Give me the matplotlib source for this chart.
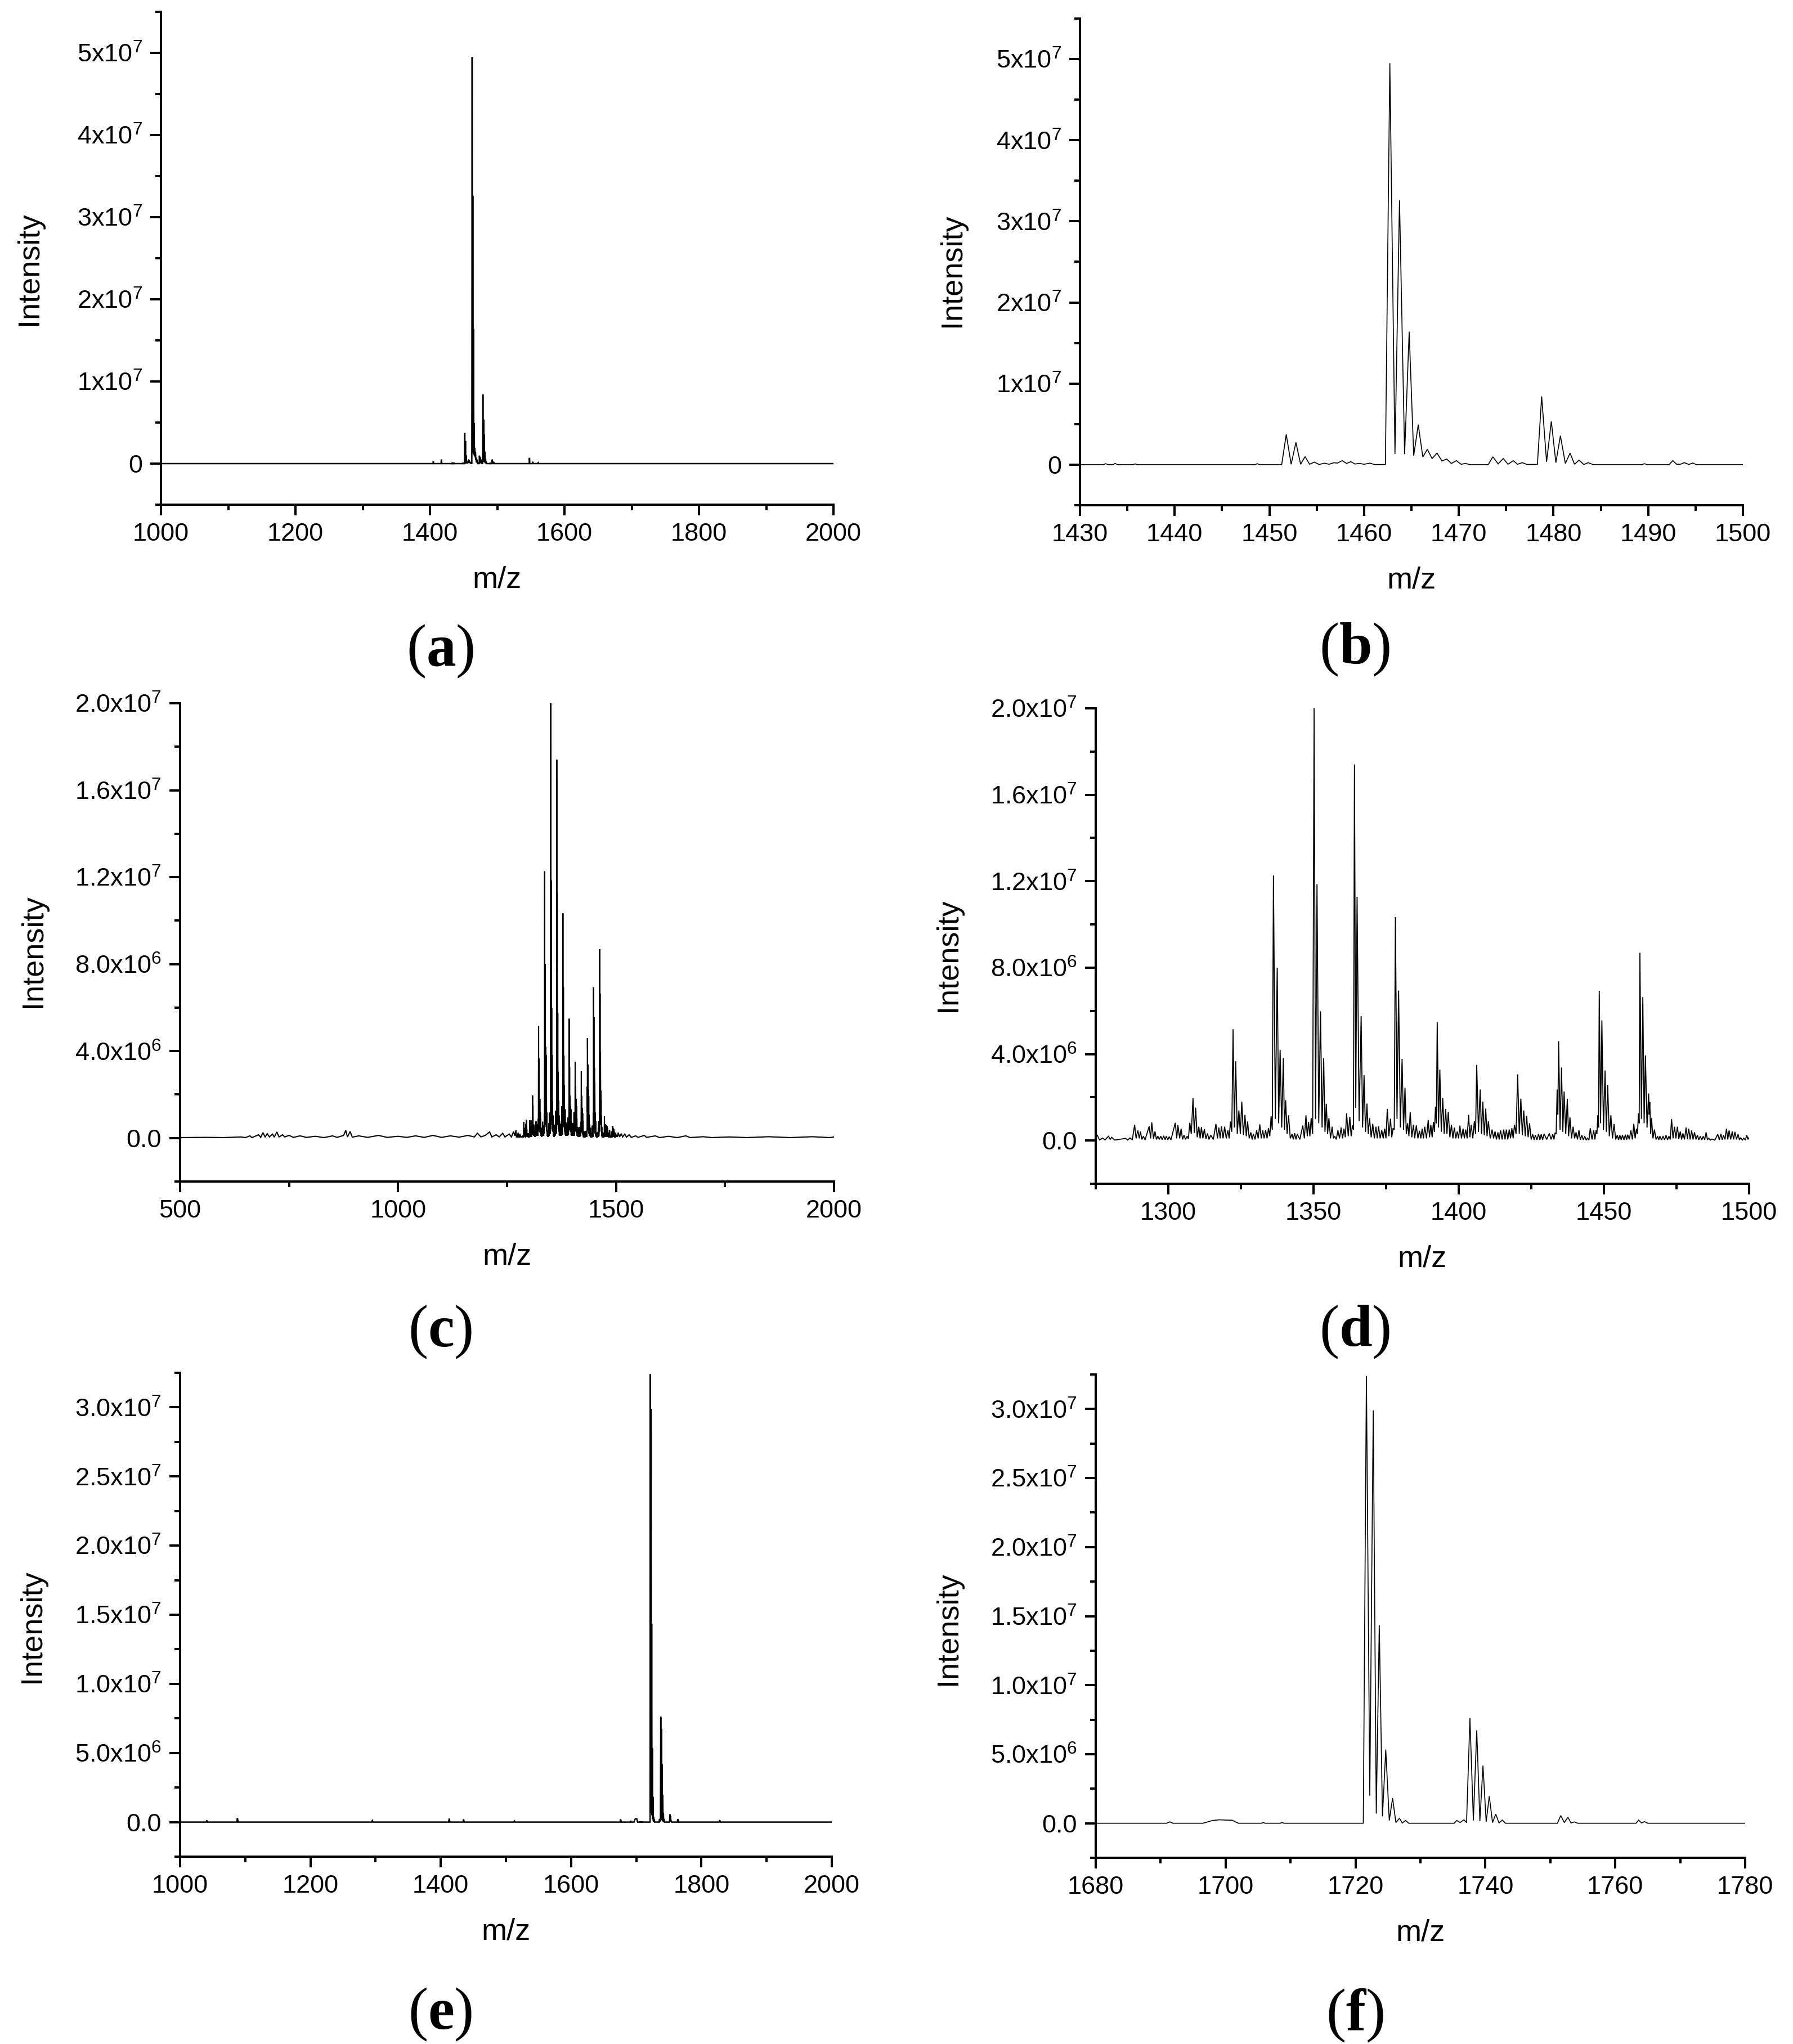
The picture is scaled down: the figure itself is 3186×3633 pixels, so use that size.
import numpy as np
import matplotlib
matplotlib.use("Agg")
import matplotlib.pyplot as plt
from matplotlib.ticker import MultipleLocator

plt.rcParams["font.family"] = ["Liberation Sans", "DejaVu Sans"]
plt.rcParams["mathtext.fontset"] = "custom"
plt.rcParams["mathtext.rm"] = "Liberation Serif"
plt.rcParams["mathtext.bf"] = "Liberation Serif:bold"

# ---------------- data (intensity in units of 1e6) ----------------
# spectrum 1 (panels a, b)
mz1 = [
    1000, 1150, 1404.5, 1405, 1405.5, 1416.5, 1417, 1417.5,
    1432.5, 1432.7, 1433.0, 1433.5, 1433.7, 1434.0, 1435.6, 1435.8,
    1436.1, 1448.5, 1448.7, 1449.0, 1451.3, 1451.78, 1452.3, 1452.8,
    1453.3, 1453.77, 1454.25, 1454.75, 1455.25, 1455.8, 1456.3, 1456.8,
    1457.2, 1457.7, 1458.15, 1458.6, 1459.05, 1459.5, 1460.0, 1460.6,
    1461.1, 1462.25, 1462.72, 1463.26, 1463.74, 1464.28, 1464.76, 1465.24,
    1465.72, 1466.2, 1466.68, 1467.18, 1467.70, 1468.22, 1468.72, 1469.22,
    1469.74, 1470.25, 1470.7, 1471.2, 1473.1, 1473.6, 1474.15, 1474.7,
    1475.2, 1475.75, 1476.2, 1476.7, 1477.2, 1478.3, 1478.75, 1479.27,
    1479.77, 1480.25, 1480.73, 1481.25, 1481.75, 1482.22, 1482.7, 1483.2,
    1483.67, 1484.2, 1489.3, 1489.6, 1489.9, 1492.2, 1492.6, 1493.0,
    1493.4, 1493.8, 1494.3, 1494.7, 1495.1, 1547.5, 1548, 1548.5,
    1552, 1553, 1554, 1560, 1561, 1562, 1570, 2000]
int1 = [
    0, 0, 0, 0.25, 0, 0, 0.5, 0,
    0, 0.12, 0, 0, 0.15, 0, 0, 0.1,
    0, 0, 0.12, 0, 0, 3.73, 0.05, 2.75,
    0.05, 1.0, 0.05, 0.32, 0.02, 0.19, 0.05, 0.24,
    0.2, 0.5, 0.15, 0.37, 0.08, 0.16, 0.05, 0.19,
    0.02, 0.02, 49.5, 1.3, 32.6, 1.3, 16.4, 1.1,
    4.94, 0.95, 1.9, 0.75, 1.43, 0.45, 0.7, 0.15,
    0.5, 0.05, 0.15, 0, 0, 0.97, 0.1, 0.76,
    0.05, 0.5, 0.05, 0.25, 0.03, 0.03, 8.41, 0.35,
    5.35, 0.25, 3.57, 0.15, 1.43, 0.05, 0.56, 0.02,
    0.25, 0, 0, 0.12, 0, 0, 0.5, 0.05,
    0.05, 0.25, 0.03, 0.2, 0, 0, 0.7, 0,
    0, 0.15, 0, 0, 0.12, 0, 0, 0]

# spectrum 2 (panels c, d)
mz2 = [
    500, 560, 600, 640, 650, 660, 665, 680,
    685, 690, 695, 700, 705, 712, 716, 722,
    727, 735, 740, 750, 760, 775, 790, 810,
    830, 850, 860, 875, 880, 884, 890, 895,
    910, 930, 955, 975, 1000, 1020, 1040, 1060,
    1080, 1100, 1120, 1140, 1160, 1175, 1182, 1190,
    1200, 1210, 1215, 1225, 1232, 1240, 1245, 1255,
    1260, 1265, 1268, 1270.5, 1271.5, 1273.5, 1275.5, 1276.3,
    1277.4, 1278.2, 1279.4, 1280.0, 1280.5, 1281.5, 1285.3, 1286,
    1286.8, 1287.6, 1288.4, 1288.9, 1289.5, 1290.0, 1290.4, 1290.9,
    1291.4, 1292.0, 1293.4, 1293.9, 1294.3, 1294.9, 1295.4, 1295.9,
    1296.4, 1296.9, 1297.4, 1297.9, 1298.4, 1298.9, 1299.3, 1299.8,
    1300.3, 1300.9, 1302.4, 1302.9, 1303.3, 1303.9, 1304.4, 1304.9,
    1305.4, 1305.9, 1306.5, 1306.9, 1307.4, 1307.9, 1308.5, 1308.95,
    1309.4, 1309.95, 1310.5, 1310.95, 1311.4, 1311.9, 1312.4, 1312.95,
    1313.5, 1314.0, 1314.6, 1315.5, 1316.4, 1316.9, 1317.4, 1317.85,
    1318.3, 1318.85, 1319.4, 1319.95, 1320.5, 1320.95, 1321.4, 1321.85,
    1322.3, 1322.75, 1323.2, 1323.75, 1324.3, 1324.8, 1325.3, 1325.85,
    1326.4, 1326.85, 1327.3, 1327.85, 1328.4, 1328.85, 1329.3, 1329.85,
    1330.4, 1330.95, 1331.5, 1332.0, 1332.5, 1333.0, 1333.5, 1334.0,
    1334.5, 1334.95, 1335.4, 1335.8, 1336.2, 1336.85, 1337.5, 1338.0,
    1338.5, 1339.05, 1339.6, 1340.0, 1340.4, 1340.9, 1341.4, 1342.0,
    1342.6, 1343.05, 1343.5, 1343.95, 1344.4, 1345.3, 1346.3, 1346.85,
    1347.4, 1347.85, 1348.3, 1348.75, 1349.2, 1349.7, 1350.2, 1350.7,
    1351.2, 1351.8, 1352.4, 1352.95, 1353.5, 1353.95, 1354.4, 1354.85,
    1355.3, 1355.85, 1356.4, 1356.85, 1357.3, 1357.85, 1358.4, 1358.95,
    1359.5, 1360.0, 1360.5, 1360.95, 1361.4, 1361.95, 1362.5, 1362.95,
    1363.4, 1363.75, 1364.1, 1364.55, 1365.0, 1365.7, 1366.4, 1366.9,
    1367.4, 1367.9, 1368.4, 1368.85, 1369.3, 1369.85, 1370.4, 1370.95,
    1371.5, 1371.95, 1372.4, 1372.95, 1373.5, 1374.0, 1374.5, 1374.95,
    1375.4, 1375.95, 1376.5, 1376.95, 1377.4, 1377.8, 1378.2, 1378.75,
    1379.3, 1379.9, 1380.5, 1381.0, 1381.5, 1381.95, 1382.4, 1382.85,
    1383.3, 1383.85, 1384.4, 1384.85, 1385.4, 1385.95, 1386.5, 1386.95,
    1387.4, 1387.85, 1388.3, 1388.9, 1389.5, 1389.95, 1390.4, 1390.85,
    1391.3, 1391.65, 1392.0, 1392.3, 1392.6, 1393.05, 1393.5, 1394.0,
    1394.5, 1395.0, 1395.5, 1395.95, 1396.4, 1396.95, 1397.5, 1398.0,
    1398.5, 1399.0, 1399.5, 1399.95, 1400.4, 1400.95, 1401.5, 1401.95,
    1402.4, 1402.9, 1403.4, 1403.85, 1404.3, 1404.85, 1405.4, 1405.8,
    1406.2, 1406.8, 1407.4, 1407.85, 1408.3, 1408.8, 1409.3, 1409.75,
    1410.2, 1410.85, 1411.5, 1412.0, 1412.5, 1413.0, 1413.5, 1413.95,
    1414.4, 1414.95, 1415.5, 1415.95, 1416.4, 1416.9, 1417.4, 1417.85,
    1418.3, 1418.75, 1419.2, 1419.75, 1420.3, 1420.85, 1421.4, 1421.9,
    1422.4, 1422.9, 1423.4, 1423.9, 1424.4, 1424.95, 1425.5, 1425.95,
    1426.4, 1426.95, 1427.5, 1427.95, 1428.4, 1428.9, 1429.4, 1430.3,
    1431.2, 1431.8, 1432.4, 1432.8, 1433.2, 1433.55, 1433.9, 1434.15,
    1434.4, 1434.9, 1435.4, 1435.85, 1436.3, 1436.85, 1437.4, 1437.85,
    1438.3, 1438.85, 1439.4, 1439.9, 1440.4, 1440.9, 1441.4, 1441.9,
    1442.4, 1442.9, 1443.4, 1443.9, 1444.4, 1444.85, 1445.3, 1445.9,
    1446.5, 1446.9, 1447.3, 1447.6, 1447.9, 1448.15, 1448.4, 1448.85,
    1449.3, 1449.85, 1450.4, 1450.85, 1451.3, 1451.85, 1452.4, 1452.95,
    1453.5, 1454.05, 1454.6, 1455.05, 1455.5, 1455.95, 1456.4, 1456.9,
    1457.4, 1457.8, 1458.2, 1458.75, 1459.3, 1459.8, 1460.3, 1460.75,
    1461.2, 1461.55, 1461.9, 1462.15, 1462.4, 1462.9, 1463.4, 1463.85,
    1464.3, 1464.85, 1465.4, 1465.6, 1465.8, 1466.1, 1466.4, 1466.9,
    1467.4, 1467.95, 1468.5, 1468.9, 1469.3, 1469.85, 1470.4, 1470.9,
    1471.4, 1471.9, 1472.4, 1472.85, 1473.3, 1473.8, 1474.3, 1474.8,
    1475.3, 1475.8, 1476.3, 1476.75, 1477.2, 1477.75, 1478.3, 1478.75,
    1479.2, 1479.7, 1480.2, 1480.7, 1481.2, 1481.7, 1482.2, 1482.7,
    1483.2, 1483.7, 1484.2, 1484.7, 1485.2, 1485.65, 1486.1, 1486.65,
    1487.2, 1488.2, 1489.2, 1489.75, 1490.3, 1490.75, 1491.2, 1491.7,
    1492.2, 1492.65, 1493.1, 1493.65, 1494.2, 1494.65, 1495.1, 1495.65,
    1496.2, 1496.65, 1497.1, 1497.65, 1498.2, 1498.7, 1499.2, 1499.6,
    1500.0, 1503, 1505, 1508, 1512, 1515, 1520, 1524,
    1530, 1535, 1545, 1550, 1565, 1570, 1590, 1600,
    1620, 1640, 1660, 1670, 1700, 1720, 1760, 1800,
    1850, 1900, 1950, 1990, 2000]
int2 = [
    0.02, 0.03, 0.02, 0.05, 0.02, 0.1, 0.02, 0.15,
    0.03, 0.25, 0.05, 0.2, 0.05, 0.18, 0.04, 0.28,
    0.05, 0.15, 0.05, 0.12, 0.03, 0.1, 0.03, 0.08,
    0.02, 0.1, 0.03, 0.12, 0.35, 0.05, 0.3, 0.04,
    0.1, 0.03, 0.12, 0.03, 0.08, 0.03, 0.1, 0.03,
    0.12, 0.03, 0.1, 0.04, 0.12, 0.05, 0.22, 0.05,
    0.12, 0.28, 0.05, 0.15, 0.05, 0.22, 0.05, 0.18,
    0.05, 0.3, 0.1, 0.37, 0.05, 0.05, 0.25, 0.03,
    0.11, 0.03, 0.2, 0.05, 0.15, 0.02, 0.1, 0.02,
    0.12, 0.03, 0.73, 0.1, 0.47, 0.1, 0.42, 0.05,
    0.2, 0.03, 0.66, 0.1, 0.84, 0.08, 0.42, 0.05,
    0.2, 0.05, 0.2, 0.04, 0.22, 0.04, 0.2, 0.03,
    0.18, 0.03, 0.82, 0.1, 0.71, 0.1, 0.55, 0.05,
    0.25, 0.05, 0.2, 0.08, 0.82, 0.3, 1.96, 0.35,
    1.52, 0.15, 0.64, 0.1, 0.62, 0.1, 0.53, 0.08,
    0.33, 0.05, 0.25, 0.05, 0.77, 0.1, 0.6, 0.1,
    0.66, 0.1, 0.64, 0.1, 0.47, 0.1, 0.88, 0.4,
    5.15, 0.6, 3.67, 0.3, 1.39, 0.3, 1.8, 0.25,
    1.19, 0.2, 0.88, 0.1, 0.38, 0.05, 0.31, 0.05,
    0.47, 0.1, 0.75, 0.1, 0.47, 0.1, 0.48, 0.1,
    0.57, 0.2, 1.12, 0.5, 12.27, 1.0, 8.0, 0.8,
    4.2, 0.6, 3.82, 0.5, 1.87, 0.3, 1.17, 0.1,
    0.3, 0.05, 0.34, 0.05, 0.3, 0.05, 0.69, 0.1,
    1.17, 0.2, 0.86, 0.2, 1.04, 0.3, 20.0, 1.0,
    11.86, 0.8, 5.98, 0.6, 3.82, 0.4, 1.7, 0.3,
    1.04, 0.1, 0.64, 0.1, 0.2, 0.05, 0.47, 0.1,
    0.6, 0.1, 0.55, 0.15, 1.26, 0.2, 1.1, 0.2,
    0.7, 0.5, 17.4, 1.5, 11.28, 0.9, 5.76, 0.6,
    3.03, 0.4, 1.71, 0.3, 1.04, 0.15, 0.77, 0.1,
    0.64, 0.1, 0.66, 0.1, 0.48, 0.1, 0.55, 0.1,
    1.46, 0.2, 1.01, 0.15, 0.57, 0.5, 10.34, 1.0,
    6.94, 0.6, 3.78, 0.5, 2.44, 0.3, 0.8, 0.2,
    1.32, 0.15, 0.73, 0.1, 0.7, 0.1, 0.45, 0.1,
    0.55, 0.1, 0.64, 0.1, 0.95, 0.15, 0.73, 0.15,
    0.86, 0.4, 1.56, 0.8, 5.49, 0.6, 3.28, 0.4,
    1.96, 0.3, 1.46, 0.3, 1.33, 0.15, 0.73, 0.1,
    0.6, 0.1, 0.42, 0.1, 0.69, 0.1, 0.55, 0.1,
    0.51, 0.1, 1.19, 0.15, 0.73, 0.1, 0.9, 0.3,
    3.5, 0.4, 2.36, 0.3, 1.8, 0.25, 1.48, 0.2,
    0.9, 0.1, 0.51, 0.1, 0.42, 0.05, 0.38, 0.05,
    0.48, 0.05, 0.51, 0.05, 0.51, 0.05, 0.51, 0.1,
    0.57, 0.1, 0.73, 0.3, 3.06, 0.3, 1.94, 0.25,
    1.39, 0.2, 1.14, 0.15, 0.8, 0.05, 0.29, 0.03,
    0.25, 0.03, 0.31, 0.03, 0.29, 0.03, 0.31, 0.05,
    0.33, 0.05, 0.29, 0.05, 0.36, 0.3, 2.36, 1.2,
    4.6, 0.5, 3.38, 0.4, 2.27, 0.3, 1.93, 0.2,
    1.08, 0.1, 0.64, 0.1, 0.38, 0.05, 0.48, 0.03,
    0.25, 0.03, 0.2, 0.02, 0.11, 0.02, 0.57, 0.05,
    0.47, 0.05, 0.47, 0.3, 1.17, 0.6, 6.93, 0.8,
    5.56, 0.5, 3.24, 0.4, 2.58, 0.2, 1.17, 0.1,
    0.77, 0.05, 0.25, 0.03, 0.25, 0.03, 0.25, 0.03,
    0.27, 0.03, 0.27, 0.05, 0.47, 0.05, 0.77, 0.1,
    0.55, 0.3, 1.26, 0.8, 8.69, 1.0, 6.64, 0.8,
    3.94, 0.6, 2.18, 1.2, 1.78, 0.3, 1.04, 0.1,
    0.51, 0.05, 0.2, 0.03, 0.2, 0.03, 0.2, 0.03,
    0.25, 0.03, 0.2, 0.05, 0.99, 0.1, 0.64, 0.1,
    0.64, 0.08, 0.42, 0.05, 0.33, 0.05, 0.6, 0.08,
    0.55, 0.05, 0.47, 0.05, 0.38, 0.05, 0.25, 0.03,
    0.2, 0.03, 0.2, 0.03, 0.38, 0.03, 0.11, 0.02,
    0.07, 0.02, 0.29, 0.03, 0.31, 0.03, 0.25, 0.05,
    0.55, 0.05, 0.47, 0.05, 0.42, 0.05, 0.4, 0.05,
    0.29, 0.03, 0.13, 0.02, 0.11, 0.02, 0.25, 0.05,
    0.15, 0.05, 0.25, 0.05, 0.2, 0.05, 0.18, 0.04,
    0.15, 0.03, 0.1, 0.03, 0.12, 0.03, 0.1, 0.02,
    0.08, 0.02, 0.1, 0.02, 0.06, 0.02, 0.05, 0.02,
    0.06, 0.02, 0.06, 0.02, 0.05]

# spectrum 3 (panels e, f)
mz3 = [
    1000, 1040, 1041, 1042, 1087, 1088, 1089, 1294,
    1295, 1296, 1412, 1413, 1414, 1434, 1435, 1436,
    1512, 1513, 1514, 1675, 1676, 1677, 1690.9, 1691.4,
    1691.9, 1696.5, 1698, 1699, 1700, 1701, 1701.5, 1702,
    1705.5, 1705.8, 1706.1, 1708.4, 1708.7, 1709, 1721.2, 1721.68,
    1722.2, 1722.73, 1723.2, 1723.66, 1724.15, 1724.66, 1725.2, 1725.71,
    1726.22, 1726.76, 1727.2, 1727.7, 1728.2, 1735.2, 1735.6, 1736.1,
    1736.7, 1737.1, 1737.62, 1738.15, 1738.67, 1739.15, 1739.63, 1740.12,
    1740.6, 1741.1, 1741.6, 1742.1, 1742.6, 1743.1, 1751.1, 1751.6,
    1752.15, 1752.7, 1753.2, 1753.7, 1754.2, 1763.2, 1763.6, 1764.05,
    1764.5, 1765, 1827, 1828, 1829, 2000]
int3 = [
    0, 0, 0.12, 0, 0, 0.3, 0, 0,
    0.1, 0, 0, 0.25, 0, 0, 0.2, 0,
    0, 0.08, 0, 0, 0.2, 0, 0, 0.1,
    0, 0, 0.2, 0.25, 0.23, 0.22, 0.1, 0,
    0, 0.05, 0, 0, 0.05, 0, 0, 32.4,
    2.0, 29.9, 0.7, 14.35, 0.5, 5.34, 0.2, 1.82,
    0.05, 0.36, 0.02, 0.2, 0, 0, 0.2, 0.05,
    0.25, 0.05, 7.62, 0.2, 6.73, 0.15, 4.18, 0.1,
    1.96, 0.05, 0.66, 0.02, 0.23, 0, 0, 0.56,
    0.05, 0.43, 0.02, 0.1, 0, 0, 0.23, 0.02,
    0.12, 0, 0, 0.15, 0, 0]

# tick values and labels
yticks_ab = [0, 1e7, 2e7, 3e7, 4e7, 5e7]
ylabels_ab = ["0", "1x10^7", "2x10^7", "3x10^7", "4x10^7", "5x10^7"]
yticks_cd = [0, 4e6, 8e6, 1.2e7, 1.6e7, 2.0e7]
ylabels_cd = ["0.0", "4.0x10^6", "8.0x10^6", "1.2x10^7", "1.6x10^7", "2.0x10^7"]
yticks_ef = [0, 5e6, 1e7, 1.5e7, 2e7, 2.5e7, 3e7]
ylabels_ef = ["0.0", "5.0x10^6", "1.0x10^7", "1.5x10^7", "2.0x10^7", "2.5x10^7", "3.0x10^7"]
panel_letters = ["a", "b", "c", "d", "e", "f"]


def tex(s):
    if "^" in s:
        base, exp = s.split("^")
        return r"$\mathregular{" + base + "^{" + exp + "}}$"
    return s


# ---------------- layout ----------------
W, H, DPI = 3186, 3633, 100
fig = plt.figure(figsize=(W / DPI, H / DPI), dpi=DPI)

panels = [
    dict(box=(286, 1481, 21, 897), x=mz1, y=int1, xlim=(1000, 2000), xmaj=200, xmin=100,
         ylim=(-5e6, 5.5e7), yt=yticks_ab, yl=ylabels_ab, ymin=5e6, lw=1.8,
         ylab=(77, 477), tag=(782, 1183)),
    dict(box=(1919, 3097, 33, 898), x=mz1, y=int1, xlim=(1430, 1500), xmaj=10, xmin=5,
         ylim=(-5e6, 5.5e7), yt=yticks_ab, yl=ylabels_ab, ymin=5e6, lw=1.2,
         ylab=(1717, 480), tag=(2407, 1180)),
    dict(box=(320, 1482, 1250, 2100), x=mz2, y=int2, xlim=(500, 2000), xmaj=500, xmin=250,
         ylim=(-2e6, 2e7), yt=yticks_cd, yl=ylabels_cd, ymin=2e6, lw=1.5,
         ylab=(84, 1690), tag=(782, 2393)),
    dict(box=(1947, 3108, 1259, 2104), x=mz2, y=int2, xlim=(1275, 1500), xmaj=50, xmin=25,
         ylim=(-2e6, 2e7), yt=yticks_cd, yl=ylabels_cd, ymin=2e6, lw=1.3,
         ylab=(1710, 1697), tag=(2407, 2393)),
    dict(box=(320, 1478, 2440, 3300), x=mz3, y=int3, xlim=(1000, 2000), xmaj=200, xmin=100,
         ylim=(-2.5e6, 3.25e7), yt=yticks_ef, yl=ylabels_ef, ymin=2.5e6, lw=1.8,
         ylab=(82, 2890), tag=(782, 3606)),
    dict(box=(1947, 3101, 2443, 3302), x=mz3, y=int3, xlim=(1680, 1780), xmaj=20, xmin=10,
         ylim=(-2.5e6, 3.25e7), yt=yticks_ef, yl=ylabels_ef, ymin=2.5e6, lw=1.2,
         ylab=(1710, 2894), tag=(2407, 3608)),
]

TICK_FS = 32.5
LABEL_FS = 39
TAG_FS = 76
SPINE_W = 2.9

for p, letter in zip(panels, panel_letters):
    L, R, T, B = p["box"]
    ax = fig.add_axes([L / W, 1 - B / H, (R - L) / W, (B - T) / H])
    ax.plot(p["x"], np.asarray(p["y"]) * 1e6, color="black", lw=p["lw"],
            solid_joinstyle="miter")
    ax.set_xlim(*p["xlim"])
    ax.set_ylim(*p["ylim"])
    for s in ("top", "right"):
        ax.spines[s].set_visible(False)
    for s in ("left", "bottom"):
        ax.spines[s].set_linewidth(SPINE_W)
    ax.xaxis.set_major_locator(MultipleLocator(p["xmaj"]))
    ax.xaxis.set_minor_locator(MultipleLocator(p["xmin"]))
    ax.set_yticks(p["yt"], labels=[tex(s) for s in p["yl"]])
    ax.yaxis.set_minor_locator(MultipleLocator(p["ymin"]))
    ax.tick_params(which="major", direction="out", length=13.7, width=SPINE_W,
                   labelsize=TICK_FS, top=False, right=False)
    ax.tick_params(which="minor", direction="out", length=7.2, width=SPINE_W,
                   top=False, right=False)
    ax.tick_params(axis="x", which="major", pad=9)
    ax.tick_params(axis="y", which="major", pad=10)
    ax.set_xlabel("m/z", fontsize=LABEL_FS, labelpad=26)
    ax.set_ylabel("Intensity", fontsize=LABEL_FS)
    lx, ly = p["ylab"]
    ax.yaxis.set_label_coords((lx - L) / (R - L), (B - ly) / (B - T))
    tx, ty = p["tag"]
    fig.text(tx / W, 1 - ty / H, r"$\mathrm{(}\mathbf{" + letter + r"}\mathrm{)}$",
             ha="center", va="baseline", fontsize=TAG_FS)

fig.savefig("out.png", dpi=DPI)
